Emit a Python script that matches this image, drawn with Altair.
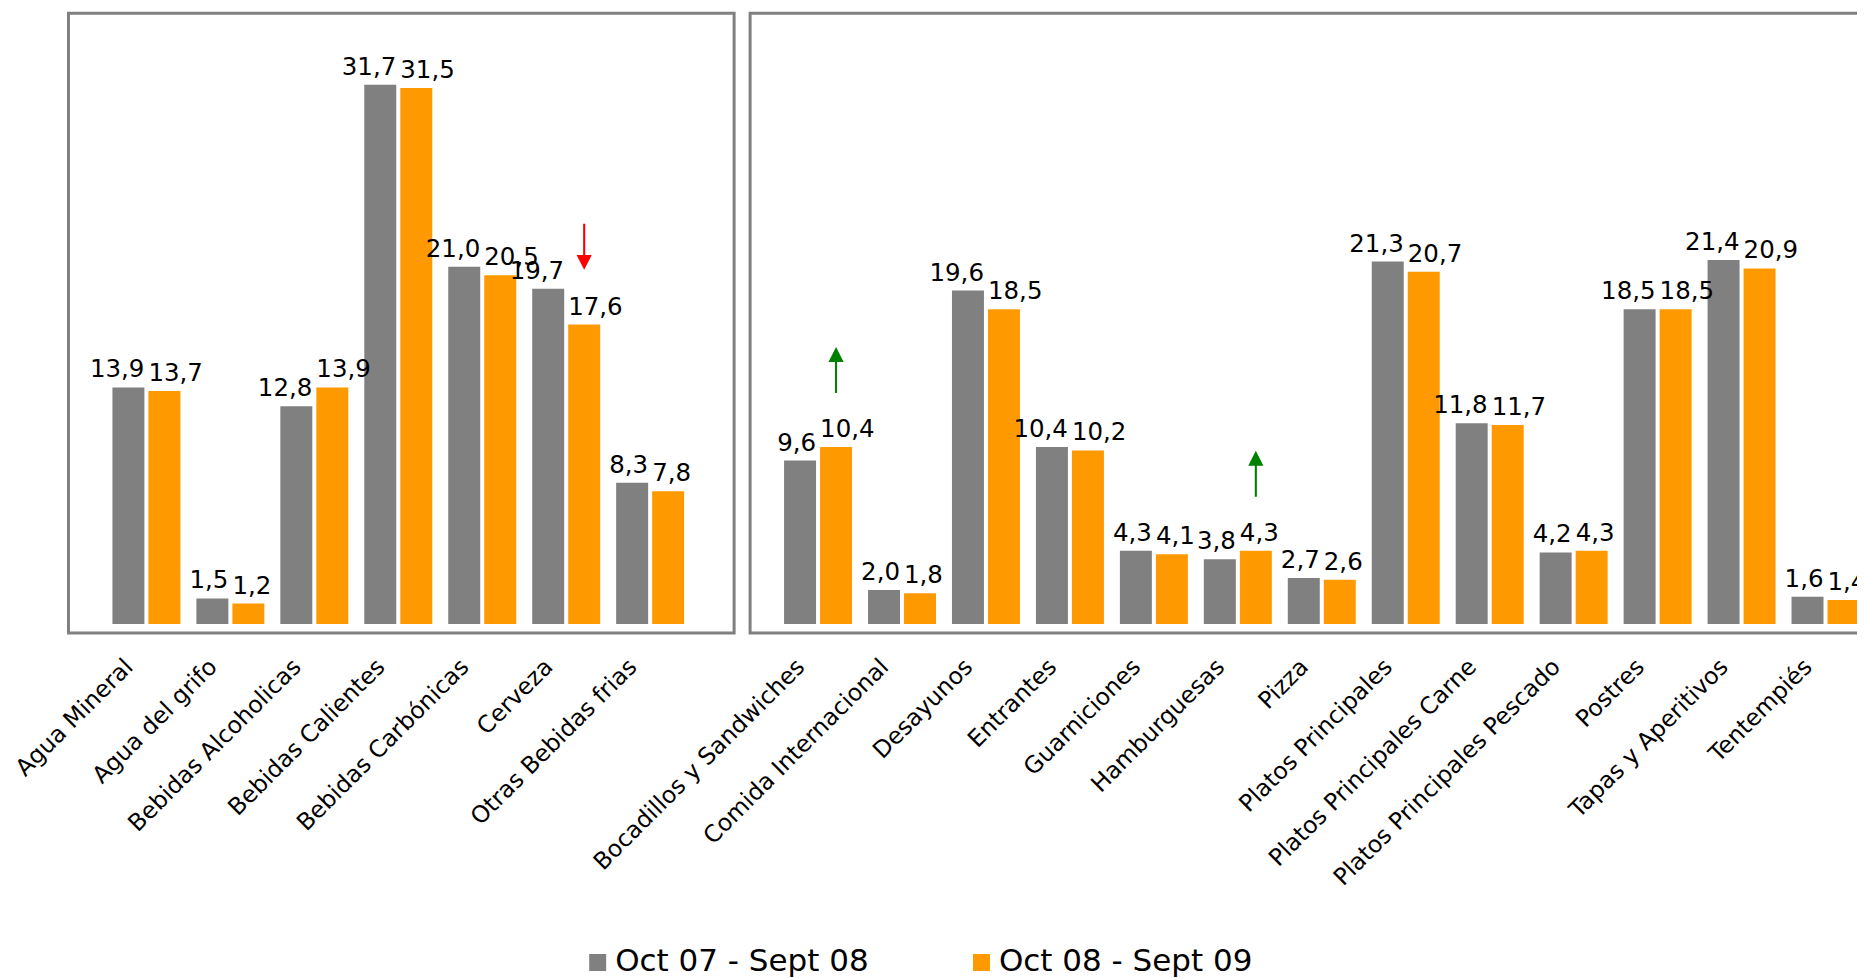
import altair as alt
import pandas as pd

FONT = "DejaVu Sans"

series = ["Oct 07 - Sept 08", "Oct 08 - Sept 09"]
colors = ["#808080", "#FF9900"]

bebidas_cats = ["Agua Mineral", "Agua del grifo", "Bebidas Alcoholicas", "Bebidas Calientes",
                "Bebidas Carbónicas", "Cerveza", "Otras Bebidas frias"]
bebidas_0708 = [13.9, 1.5, 12.8, 31.7, 21.0, 19.7, 8.3]
bebidas_0809 = [13.7, 1.2, 13.9, 31.5, 20.5, 17.6, 7.8]

comidas_cats = ["Bocadillos y Sandwiches", "Comida Internacional", "Desayunos", "Entrantes",
                "Guarniciones", "Hamburguesas", "Pizza", "Platos Principales",
                "Platos Principales Carne", "Platos Principales Pescado", "Postres",
                "Tapas y Aperitivos", "Tentempiés"]
comidas_0708 = [9.6, 2.0, 19.6, 10.4, 4.3, 3.8, 2.7, 21.3, 11.8, 4.2, 18.5, 21.4, 1.6]
comidas_0809 = [10.4, 1.8, 18.5, 10.2, 4.1, 4.3, 2.6, 20.7, 11.7, 4.3, 18.5, 20.9, 1.4]

arrow_cats = ["Cerveza", "Bocadillos y Sandwiches", "Hamburguesas"]
arrow_dirs = ["down", "up", "up"]

UP_PATH = ("M0,-1 L0.33,-0.35 L0.045,-0.35 L0.045,1 L-0.045,1 L-0.045,-0.35 "
           "L-0.33,-0.35 Z")
DOWN_PATH = ("M0,1 L0.33,0.35 L0.045,0.35 L0.045,-1 L-0.045,-1 L-0.045,0.35 "
             "L-0.33,0.35 Z")


def panel(cats, v1, v2, width, pad_outer, align):
    rows = []
    for c, a, b in zip(cats, v1, v2):
        rows.append(dict(cat=c, serie=series[0], value=a))
        rows.append(dict(cat=c, serie=series[1], value=b))
    df = pd.DataFrame(rows)
    df["label"] = df["value"].map(lambda v: f"{v:.1f}".replace(".", ","))

    arows = []
    for c, d in zip(arrow_cats, arrow_dirs):
        if c in cats:
            i = cats.index(c)
            arows.append(dict(cat=c, serie=series[1], dir=d, value=max(v1[i], v2[i])))
    adf = pd.DataFrame(arows, columns=["cat", "serie", "dir", "value"])

    x = alt.X("cat:N", sort=cats, title=None,
              scale=alt.Scale(paddingInner=0.19, paddingOuter=pad_outer, align=align),
              axis=alt.Axis(labelAngle=-45, labelAlign="right", labelBaseline="middle",
                            labelFontSize=23.5, labelFont=FONT, labelColor="black",
                            labelPadding=30, labelOffset=-17, ticks=False, domain=False,
                            labelLimit=0))
    xo = alt.XOffset("serie:N", sort=series,
                     scale=alt.Scale(domain=series, paddingInner=0.111, paddingOuter=0))
    y = alt.Y("value:Q", axis=None,
              scale=alt.Scale(domain=[-0.53, 35.9], nice=False, zero=False))
    color = alt.Color("serie:N", sort=series,
                      scale=alt.Scale(domain=series, range=colors),
                      legend=alt.Legend(orient="none", legendX=514, legendY=934,
                                        direction="horizontal", title=None,
                                        symbolType="square", symbolSize=289,
                                        symbolStrokeWidth=0, symbolOpacity=1,
                                        labelFontSize=31, labelFont=FONT, labelLimit=0,
                                        labelColor="black", labelOffset=2,
                                        columnPadding=97, padding=0))

    base = alt.Chart(df)
    bars = base.mark_bar(size=32).encode(x=x, xOffset=xo, y=y, y2=alt.datum(0), color=color)
    t1 = base.transform_filter(alt.datum.serie == series[0]).mark_text(
        align="right", dx=16, dy=-10, baseline="alphabetic", fontSize=24.5, font=FONT,
        color="black").encode(x=x, xOffset=xo, y=y, text="label:N")
    t2 = base.transform_filter(alt.datum.serie == series[1]).mark_text(
        align="left", dx=-16, dy=-10, baseline="alphabetic", fontSize=24.5, font=FONT,
        color="black").encode(x=x, xOffset=xo, y=y, text="label:N")

    ab = alt.Chart(adf)
    up = ab.transform_filter(alt.datum.dir == "up").mark_point(
        shape=UP_PATH, size=2116, filled=True, opacity=1, strokeWidth=0, yOffset=-77
    ).encode(x=x, xOffset=xo, y=y, color=alt.value("#008000"))
    down = ab.transform_filter(alt.datum.dir == "down").mark_point(
        shape=DOWN_PATH, size=2116, filled=True, opacity=1, strokeWidth=0, yOffset=-42
    ).encode(x=x, xOffset=xo, y=y, color=alt.value("#FF0000"))

    return alt.layer(bars, t1, t2, up, down).properties(width=width, height=620)


left = panel(bebidas_cats, bebidas_0708, bebidas_0809, 666, 0.5593, 0.468)
right = panel(comidas_cats, comidas_0708, comidas_0809, 1144, 0.4045, 0.5)

chart = alt.hconcat(left, right, spacing=16, bounds="flush").properties(
    padding={"left": 1.5, "top": 3, "right": -38.5, "bottom": 0},
    background="white"
).configure_view(stroke="#808080", strokeWidth=3)

chart.save("out.html", embed_options={"renderer": "svg", "actions": False})
